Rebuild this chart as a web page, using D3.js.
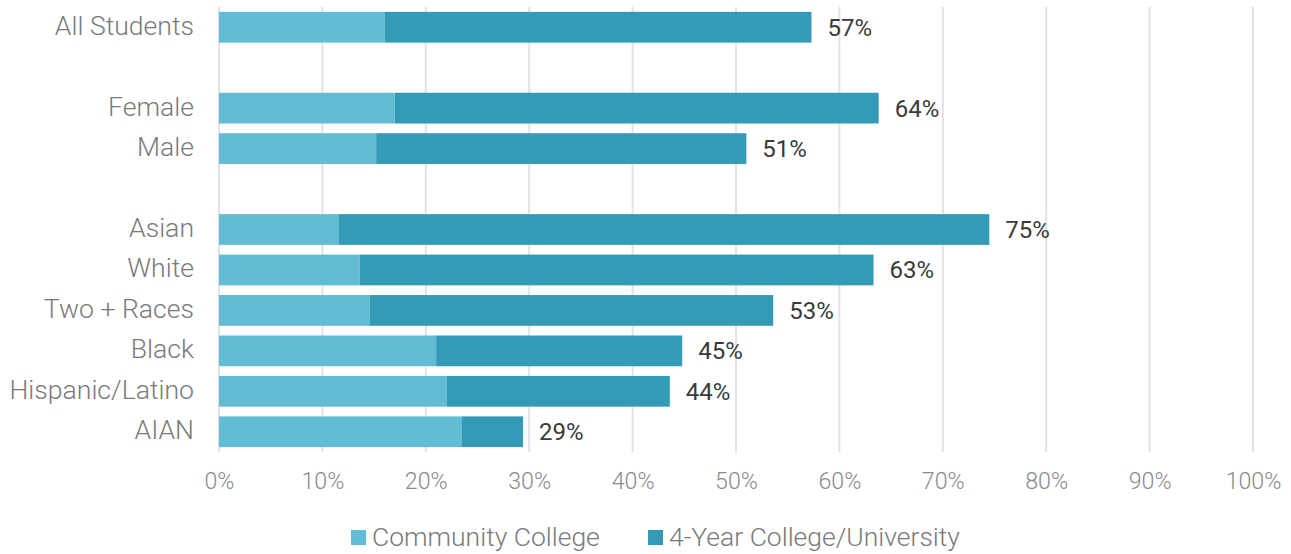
<!DOCTYPE html>
<html><head><meta charset="utf-8">
<script src="https://cdn.jsdelivr.net/npm/d3@7/dist/d3.min.js"></script>
<style>body{margin:0;background:#fff}svg{display:block}</style>
</head><body><svg id="c" width="1291" height="554"></svg>
<script>
const categories = ["All Students","_gap1","Female","Male","_gap2","Asian","White","Two + Races","Black","Hispanic/Latino","AIAN"];
const communityCollege = [16, null, 17, 15.2, null, 11.6, 13.6, 14.6, 21, 22, 23.5];
const fourYear = [41.3, null, 46.8, 35.8, null, 62.9, 49.7, 39, 23.8, 21.6, 5.9];
const totalLabels = ["57%", null, "64%", "51%", null, "75%", "63%", "53%", "45%", "44%", "29%"];
const tickValues = [0,10,20,30,40,50,60,70,80,90,100];
const seriesNames = ["Community College","4-Year College/University"];
const colors = ["#62bcd4","#339bb5"];

const svg = d3.select("#c");
const x = d3.scaleLinear().domain([0,100]).range([219,1253]);
const y = d3.scaleBand().domain(categories).range([7,452]).paddingInner(0.24).paddingOuter(0.12);
const font = "Roboto, sans-serif";

// gridlines
svg.append("g").selectAll("line").data(tickValues).join("line")
  .attr("x1",d=>x(d)).attr("x2",d=>x(d)).attr("y1",7).attr("y2",452)
  .attr("stroke","#e3e3e3").attr("stroke-width",2);

// x axis labels
const xAxis = d3.axisBottom(x).tickValues(tickValues).tickFormat(d=>d+"%").tickSize(0).tickPadding(0);
const gx = svg.append("g").attr("transform","translate(0,473)").call(xAxis);
gx.select(".domain").remove();
gx.selectAll("text").attr("font-family",font).attr("font-weight",300).attr("font-size",23.2).attr("fill","#8a8a8a").attr("dy","0.71em");

// y labels
const rows = categories.map((c,i)=>({c,i})).filter(d=>!d.c.startsWith("_"));
const yAxis = d3.axisLeft(y).tickValues(rows.map(d=>d.c)).tickSize(0).tickPadding(0);
const gy = svg.append("g").attr("transform","translate(194,-1)").call(yAxis);
gy.select(".domain").remove();
gy.selectAll("text").attr("font-family",font).attr("font-weight",300).attr("font-size",26.6).attr("fill","#7a7a7a");

// bars
const stackData = rows.map(d=>({c:d.c, cc:communityCollege[d.i], fy:fourYear[d.i], lab:totalLabels[d.i]}));
const stack = d3.stack().keys(["cc","fy"])(stackData);
svg.append("g").selectAll("g").data(stack).join("g").attr("fill",(d,i)=>colors[i])
  .selectAll("rect").data(d=>d).join("rect")
  .attr("x",d=>x(d[0])).attr("width",d=>x(d[1])-x(d[0]))
  .attr("y",d=>y(d.data.c)).attr("height",y.bandwidth());

// value labels
svg.append("g").selectAll("text").data(stackData).join("text")
  .attr("x",d=>x(d.cc+d.fy)+16).attr("y",d=>y(d.c)+y.bandwidth()/2)
  .attr("dy","0.35em").attr("font-family",font).attr("font-size",24).attr("fill","#3a3a3a")
  .text(d=>d.lab);

// legend
const leg = svg.append("g");
const legX = [351, 648];
seriesNames.forEach((n,i)=>{
  leg.append("rect").attr("x",legX[i]).attr("y",530).attr("width",15).attr("height",15).attr("fill",colors[i]);
  leg.append("text").attr("x",legX[i]+21).attr("y",537).attr("dy","0.35em")
    .attr("font-family",font).attr("font-weight",300).attr("font-size",26.5).attr("fill","#7a7a7a").text(n);
});
</script></body></html>
